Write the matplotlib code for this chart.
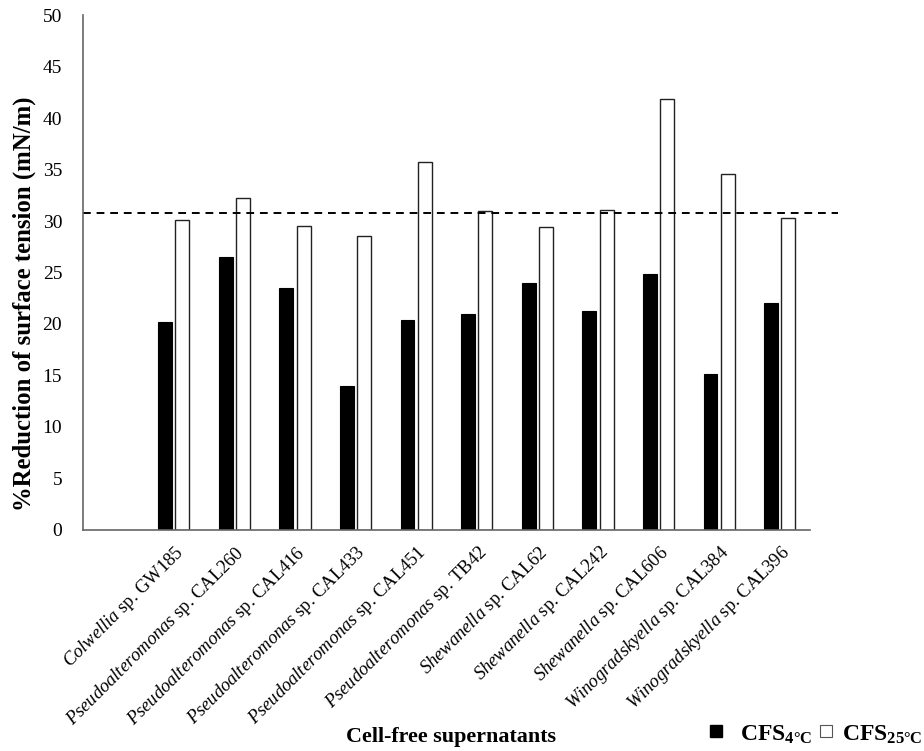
import numpy as np
import matplotlib.pyplot as plt
from matplotlib.lines import Line2D

plt.rcParams['font.family'] = 'Liberation Serif'
plt.rcParams['mathtext.fontset'] = 'custom'
plt.rcParams['mathtext.rm'] = 'Liberation Serif'
plt.rcParams['mathtext.it'] = 'Liberation Serif:italic'
plt.rcParams['mathtext.bf'] = 'Liberation Serif:bold'

# genus (italic) and strain code for each cell-free supernatant
genus = ['', 'Colwellia', 'Pseudoalteromonas', 'Pseudoalteromonas', 'Pseudoalteromonas',
         'Pseudoalteromonas', 'Pseudoalteromonas', 'Shewanella', 'Shewanella',
         'Shewanella', 'Winogradskyella', 'Winogradskyella']
strain = ['', 'GW185', 'CAL260', 'CAL416', 'CAL433', 'CAL451', 'TB42',
          'CAL62', 'CAL242', 'CAL606', 'CAL384', 'CAL396']

cfs_4 = [np.nan, 20.2, 26.5, 23.5, 14.0, 20.4, 21.0, 24.0, 21.3, 24.9, 15.1, 22.0]
cfs_25 = [np.nan, 30.1, 32.2, 29.5, 28.5, 35.7, 31.0, 29.4, 31.1, 41.8, 34.6, 30.3]
threshold = 30.8

labels = []
for g, s in zip(genus, strain):
    labels.append('$\\mathit{%s}$ sp. %s' % (g, s) if g else '')

x = np.arange(len(genus))

fig = plt.figure(figsize=(9.24, 7.51), dpi=100)
ax = fig.add_axes([0.0898, 0.2943, 0.787, 0.6857])

ax.bar(x - 0.145, cfs_4, width=0.23, color='black', edgecolor='black', linewidth=0.8)
ax.bar(x + 0.14, cfs_25, width=0.23, color='white', edgecolor='#222222', linewidth=1.0)

ax.plot([-0.5, 11.96], [threshold, threshold], color='black', linestyle=(0, (4, 3)),
        linewidth=1.4, clip_on=False)

ax.set_xlim(-0.5, 11.5)
ax.set_ylim(0, 50)
ax.set_yticks(np.arange(0, 51, 5))
ax.tick_params(axis='y', length=0, labelsize=14, pad=15)
ax.tick_params(axis='x', length=0, pad=9)
ax.set_xticks(x)
ax.set_xticklabels(labels, rotation=45, ha='right', rotation_mode='anchor', fontsize=13.3)

for side in ['top', 'right']:
    ax.spines[side].set_visible(False)
for side in ['left', 'bottom']:
    ax.spines[side].set_color('#666666')
    ax.spines[side].set_linewidth(1.2)

fig.text(0.026, 0.595, '%Reduction of surface tension (mN/m)', fontsize=17.8,
         fontweight='bold', rotation=90, ha='center', va='center')
fig.text(0.488, 0.012, 'Cell-free supernatants', fontsize=15.8, fontweight='bold', ha='center')

# legend drawn by hand to match the spacing of the original
fig.add_artist(Line2D([0.775], [0.026], transform=fig.transFigure, marker='s', markersize=8,
                      markerfacecolor='black', markeredgecolor='black', linestyle='none'))
fig.text(0.879, 0.0135, 'CFS$_{\\mathbf{4°C}}$', fontsize=17, fontweight='bold', ha='right')
fig.add_artist(Line2D([0.894], [0.026], transform=fig.transFigure, marker='s', markersize=8,
                      markerfacecolor='white', markeredgecolor='#555555',
                      markeredgewidth=0.8, linestyle='none'))
fig.text(0.998, 0.0135, 'CFS$_{\\mathbf{25°C}}$', fontsize=17, fontweight='bold', ha='right')

fig.savefig('out.png', dpi=100)
